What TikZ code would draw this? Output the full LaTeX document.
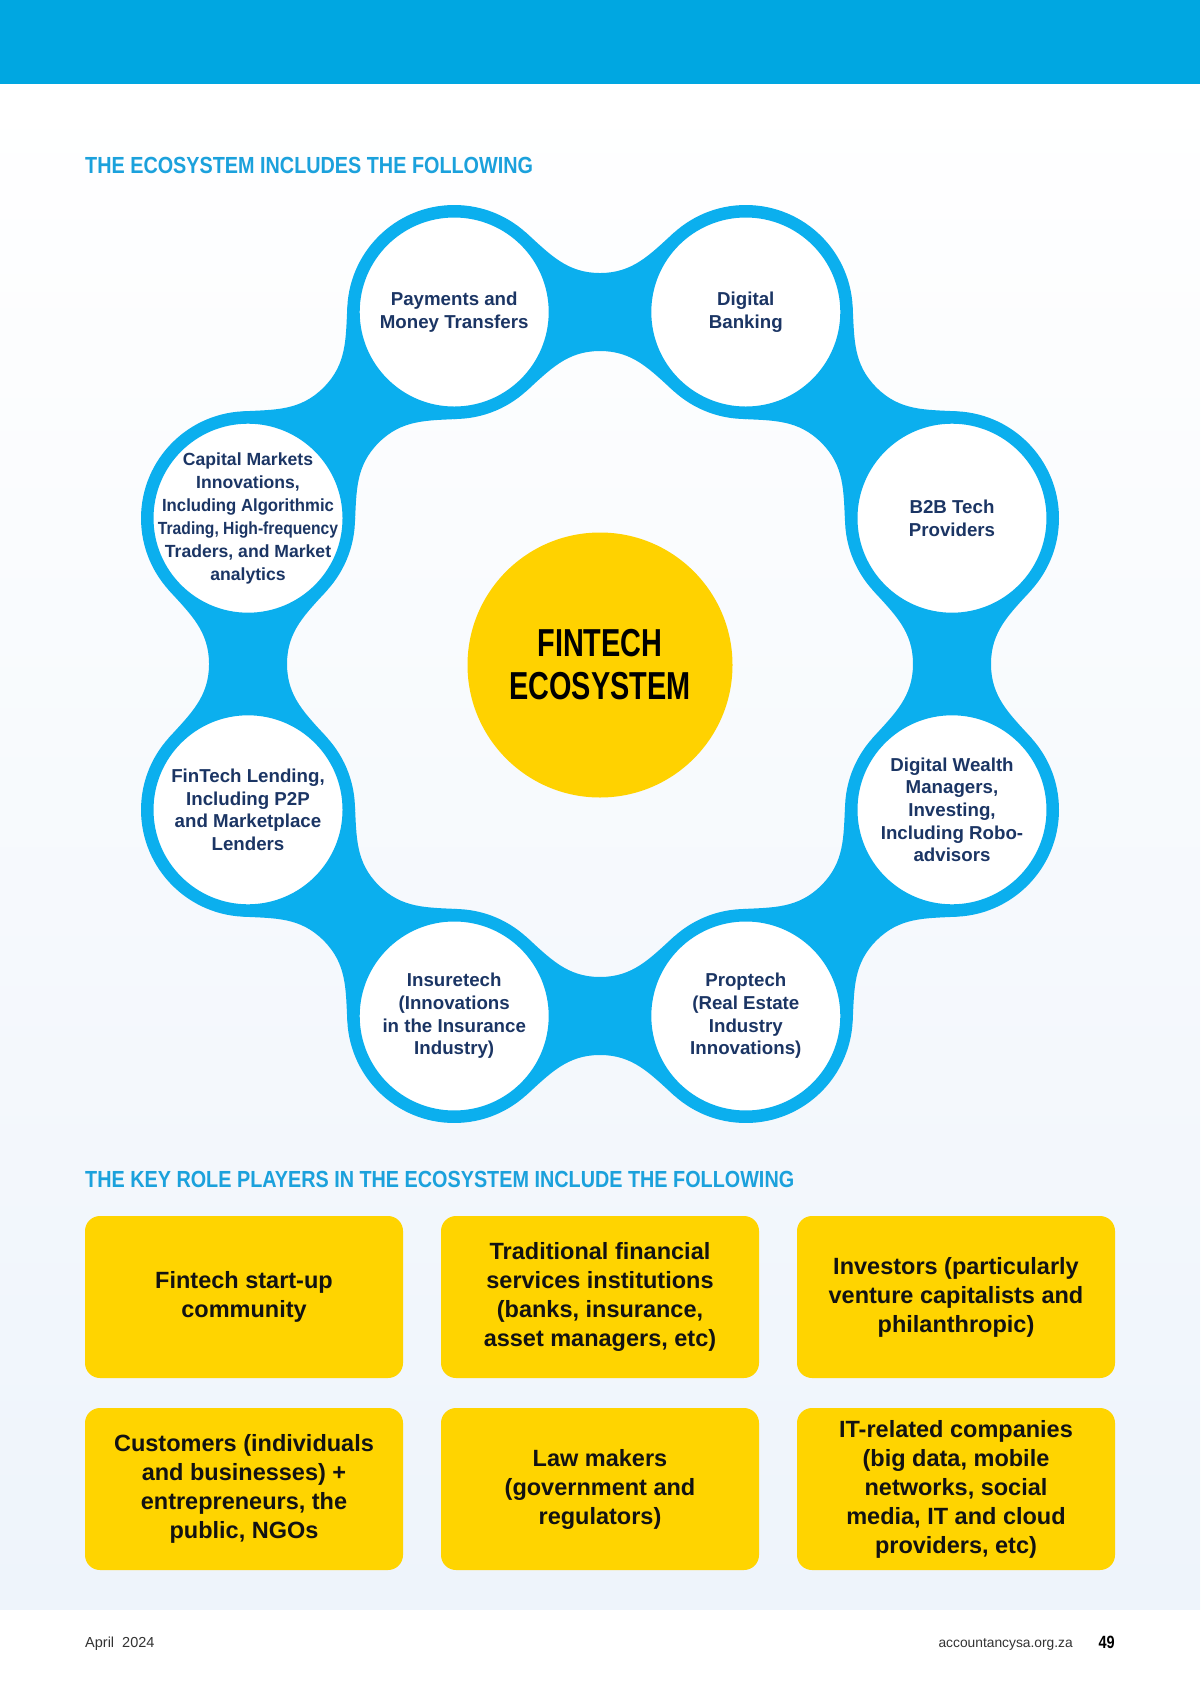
\documentclass[tikz,border=0pt]{standalone}
\usepackage{fontspec}
\setmainfont{Liberation Sans}
\newfontfamily\condfont[FakeStretch=0.85]{Liberation Sans}
\newfontfamily\ecofont[FakeStretch=0.74]{Liberation Sans}
\newfontfamily\numfont[FakeStretch=0.82]{Liberation Sans}
\usetikzlibrary{calc}
\pgfdeclarelayer{back}
\pgfdeclarelayer{bridges}
\pgfsetlayers{back,bridges,main}
\definecolor{bandblue}{HTML}{00A7E1}
\definecolor{headblue}{HTML}{1BA1DC}
\definecolor{ringblue}{HTML}{0BAFEE}
\definecolor{navy}{HTML}{1B3564}
\definecolor{centeryellow}{HTML}{FFD200}
\definecolor{boxyellow}{HTML}{FFD400}
\definecolor{bgblue}{HTML}{EEF4FB}
\definecolor{footgray}{HTML}{333333}
\newcommand\ringbridge[3]{%
  \pgfmathsetmacro\angOne{#3+48}%
  \pgfmathsetmacro\outOne{#3-42}%
  \pgfmathsetmacro\inOne{#3+180}%
  \pgfmathsetmacro\inTwo{#3+222}%
  \pgfmathsetmacro\angTwo{#3+132}%
  \pgfmathsetmacro\angThree{#3+228}%
  \pgfmathsetmacro\outThree{#3+138}%
  \pgfmathsetmacro\angFour{#3-48}%
  \pgfmathsetmacro\inFour{#3+42}%
  \pgfmathsetmacro\bridgeUp{#3+90}%
  \pgfmathsetmacro\bridgeDn{#3-90}%
  \fill[ringblue] ($(#1)+(\angOne:107)$) to[out=\outOne,in=\inOne]
    ($(#1)!0.5!(#2)+(\bridgeUp:39)$) to[out=#3,in=\inTwo]
    ($(#2)+(\angTwo:107)$) -- ($(#2)+(\angThree:107)$)
    to[out=\outThree,in=#3] ($(#1)!0.5!(#2)+(\bridgeDn:39)$)
    to[out=\inOne,in=\inFour] ($(#1)+(\angFour:107)$) -- cycle;}
\tikzset{
  headtext/.style={font=\condfont\bfseries\fontsize{23.3}{28}\selectfont, text=headblue, inner sep=0pt, anchor=base west},
  ringnode/.style={circle, draw=ringblue, fill=white, line width=12.5pt, minimum size=201.5pt, inner sep=0pt},
  ctext/.style={font=\bfseries\fontsize{18.7}{22.7}\selectfont, text=navy, align=center, inner sep=0pt},
  ybox/.style={rounded corners=15pt, fill=boxyellow, minimum width=318pt, minimum height=162pt, inner sep=0pt, align=center, font=\bfseries\fontsize{23.5}{29}\selectfont, text=black!93},
}
\begin{document}
\begin{tikzpicture}[x=1pt,y=1pt]
\useasboundingbox (0,0) rectangle (1200,-1696);
\begin{pgfonlayer}{back}
  \fill[white] (0,0) rectangle (1200,-1696);
  \shade[top color=white, bottom color=bgblue] (0,-84) rectangle (1200,-1609);
  \fill[bandblue] (0,0) rectangle (1200,-84);
\end{pgfonlayer}

\node[headtext] (h1) at (85,-173.3) {THE ECOSYSTEM INCLUDES THE FOLLOWING};
\node[headtext] (h2) at (85,-1187.6) {THE KEY ROLE PLAYERS IN THE ECOSYSTEM INCLUDE THE FOLLOWING};

% ring circles
\node[ringnode] (pay)    at ([shift={(600,-664)}]112.5:381) {};
\node[ringnode] (dig)    at ([shift={(600,-664)}]67.5:381) {};
\node[ringnode] (btb)    at ([shift={(600,-664)}]22.5:381) {};
\node[ringnode] (wealth) at ([shift={(600,-664)}]-22.5:381) {};
\node[ringnode] (prop)   at ([shift={(600,-664)}]-67.5:381) {};
\node[ringnode] (ins)    at ([shift={(600,-664)}]-112.5:381) {};
\node[ringnode] (lend)   at ([shift={(600,-664)}]-157.5:381) {};
\node[ringnode] (cap)    at ([shift={(600,-664)}]157.5:381) {};

\begin{pgfonlayer}{bridges}
  \ringbridge{pay}{dig}{0}
  \ringbridge{dig}{btb}{-45}
  \ringbridge{btb}{wealth}{-90}
  \ringbridge{wealth}{prop}{-135}
  \ringbridge{prop}{ins}{180}
  \ringbridge{ins}{lend}{135}
  \ringbridge{lend}{cap}{90}
  \ringbridge{cap}{pay}{45}
\end{pgfonlayer}

\node[ctext] (tpay) at (pay) {Payments and\\Money Transfers};
\node[ctext] (tdig) at (dig) {Digital\\Banking};
\node[ctext] (tbtb) at (btb) {B2B Tech\\Providers};
\node[ctext] (twealth) at (wealth) {Digital Wealth\\Managers,\\Investing,\\Including Robo-\\advisors};
\node[ctext] (tprop) at (prop) {Proptech\\(Real Estate\\Industry\\Innovations)};
\node[ctext] (tins) at (ins) {Insuretech\\(Innovations\\in the Insurance\\Industry)};
\node[ctext] (tlend) at (lend) {FinTech Lending,\\Including P2P\\and Marketplace\\Lenders};
\node[ctext, font=\bfseries\fontsize{17.6}{22.9}\selectfont] (tcap) at (cap) {Capital Markets\\Innovations,\\\scalebox{0.95}[1]{Including Algorithmic}\\\scalebox{0.89}[1]{Trading, High-frequency}\\Traders, and Market\\analytics};

% center
\node[circle, fill=centeryellow, minimum size=265pt, inner sep=0pt, align=center,
      font=\ecofont\bfseries\fontsize{39}{43}\selectfont, text=black] (core) at (600,-665) {FINTECH\\ECOSYSTEM};

% role player boxes
\node[ybox] (b1) at (244,-1297) {Fintech start-up\\community};
\node[ybox] (b2) at (600,-1297) {Traditional financial\\services institutions\\(banks, insurance,\\asset managers, etc)};
\node[ybox] (b3) at (956,-1297) {Investors (particularly\\venture capitalists and\\philanthropic)};
\node[ybox] (b4) at (244,-1489) {Customers (individuals\\and businesses) +\\entrepreneurs, the\\public, NGOs};
\node[ybox] (b5) at (600,-1489) {Law makers\\(government and\\regulators)};
\node[ybox] (b6) at (956,-1489) {IT-related companies\\(big data, mobile\\networks, social\\media, IT and cloud\\providers, etc)};

% footer
\node[anchor=base west, inner sep=0pt, font=\fontsize{14.5}{17}\selectfont, text=footgray] (date) at (85,-1647) {April~~2024};
\node[anchor=base east, inner sep=0pt, font=\fontsize{13.8}{16}\selectfont, text=footgray] (site) at (1073,-1647) {accountancysa.org.za};
\node[anchor=base east, inner sep=0pt, font=\numfont\bfseries\fontsize{17.7}{20}\selectfont, text=black] (page) at (1115,-1648) {49};
\end{tikzpicture}
\end{document}
